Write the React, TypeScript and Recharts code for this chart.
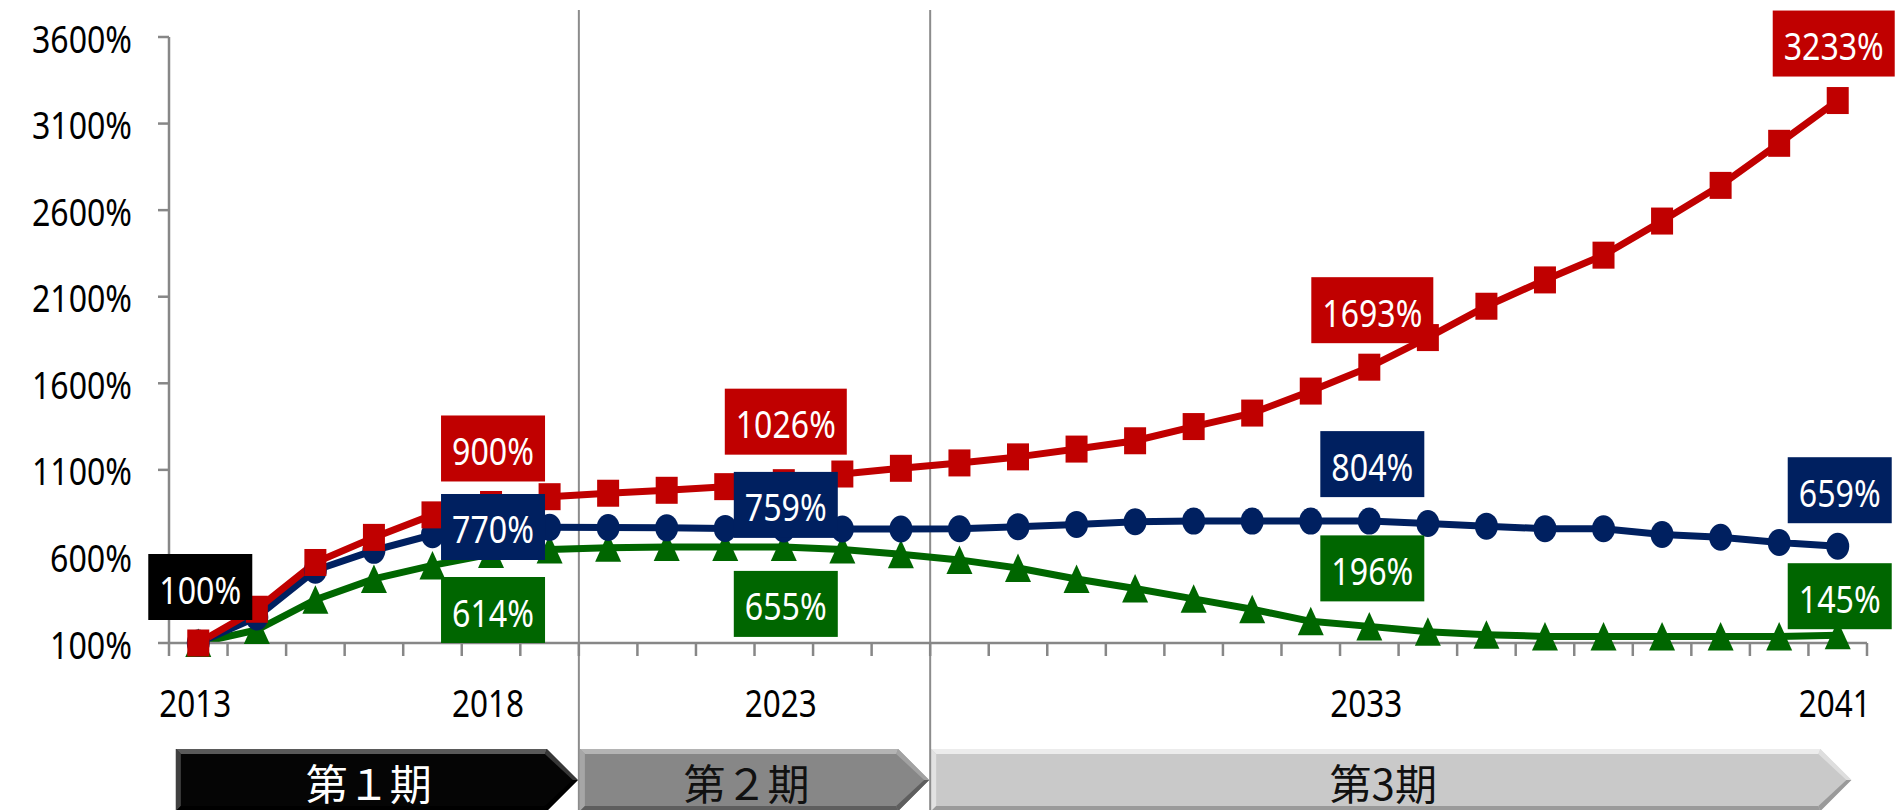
import React from 'react';
import { LineChart, Line, XAxis, YAxis, ReferenceLine, ReferenceArea, LabelList } from 'recharts';

// ---------- data ----------
const years = [2013, 2014, 2015, 2016, 2017, 2018, 2019, 2020, 2021, 2022, 2023, 2024, 2025, 2026, 2027, 2028, 2029, 2030, 2031, 2032, 2033, 2034, 2035, 2036, 2037, 2038, 2039, 2040, 2041];
const seriesRed = [100, 295, 565, 710, 840, 900, 945, 965, 982, 1003, 1026, 1076, 1109, 1140, 1175, 1220, 1268, 1350, 1428, 1555, 1693, 1864, 2045, 2197, 2340, 2537, 2743, 2986, 3233];
const seriesBlue = [100, 250, 520, 635, 725, 770, 768, 767, 765, 762, 759, 758, 758, 760, 772, 785, 800, 804, 804, 804, 804, 790, 775, 760, 760, 727, 711, 680, 659];
const seriesGreen = [100, 175, 350, 470, 548, 614, 640, 650, 655, 655, 655, 640, 612, 580, 533, 470, 415, 355, 295, 225, 196, 165, 148, 138, 137, 137, 137, 137, 145];

const yTicks = [100, 600, 1100, 1600, 2100, 2600, 3100, 3600];
const xLabelYears = [2013, 2018, 2023, 2033, 2041];

const redLabelYears = [2013, 2018, 2023, 2033, 2041];
const blueLabelYears = [2018, 2023, 2033, 2041];
const greenLabelYears = [2018, 2023, 2033, 2041];

const periodNames = ['第１期', '第２期', '第3期'];
const periodStarts = [2012.6, 2019.5, 2025.5];
const periodEnds = [2019.5, 2025.5, 2041.25];
const separatorYears = [2019.5, 2025.5];

const data = years.map((year, i) => ({ year, red: seriesRed[i], blue: seriesBlue[i], green: seriesGreen[i] }));
const boundaryTicks = [...years.map((y) => y - 0.5), years[years.length - 1] + 0.5];
const xTicks = [...boundaryTicks, ...xLabelYears].sort((a, b) => a - b);

// ---------- style ----------
const RED = '#C00000';
const BLUE = '#002060';
const GREEN = '#006600';
const AXIS = '#878787';
const NUM_FONT = "'Noto Sans', 'Open Sans', 'DejaVu Sans', sans-serif";
const CJK_FONT = "'Noto Sans CJK JP', 'Noto Sans CJK SC', sans-serif";

// narrow-font look: width per glyph
const textLen = (s: string) => {
  let w = 0;
  for (const ch of s) w += ch === '%' ? 28 : 18;
  return w;
};

const NumText = (props: any) => {
  const { children, ...rest } = props;
  const s = String(children);
  return (
    <text {...rest} fontSize={39} fontFamily={NUM_FONT} textLength={textLen(s)} lengthAdjust="spacingAndGlyphs">
      {s}
    </text>
  );
};

const labelYearsBySeries: Record<string, number[]> = { red: redLabelYears, blue: blueLabelYears, green: greenLabelYears };
const labelDy: Record<string, number[]> = { red: [-56, -56, -61, -57, -57], blue: [0, -24, -57, -56], green: [56, 57, -58, -39] };
const labelDx: Record<string, number[]> = { red: [2, 2, 2, 3, -4], blue: [2, 2, 3, 2], green: [2, 2, 3, 2] };

const makeLabel = (key: string, color: string) => (props: any) => {
  const { x, y, value, index } = props;
  if (x == null || y == null) return null;
  const yr = years[index];
  const li = labelYearsBySeries[key].indexOf(yr);
  if (li < 0) return null;
  const text = `${value}%`;
  const w = 18 * text.length + 32;
  const h = 66;
  const cx = x + labelDx[key][li];
  const cy = y + labelDy[key][li];
  const fill = key === 'red' && yr === 2013 ? '#000000' : color;
  return (
    <g key={`lb-${key}-${index}`}>
      <rect x={cx - w / 2} y={cy - h / 2} width={w} height={h} fill={fill} />
      <NumText x={cx} y={cy + 1} textAnchor="middle" dominantBaseline="central" fill="#ffffff">
        {text}
      </NumText>
    </g>
  );
};

const squareDot = (color: string) => (p: any) =>
  p.cx == null ? <g key={`sq${p.index}`} /> : <rect key={`sq${p.index}`} x={p.cx - 11} y={p.cy - 13.5} width={22} height={27} fill={color} />;
const circleDot = (color: string) => (p: any) =>
  p.cx == null ? <g key={`ci${p.index}`} /> : <ellipse key={`ci${p.index}`} cx={p.cx} cy={p.cy} rx={11.5} ry={13.5} fill={color} />;
const triDot = (color: string) => (p: any) =>
  p.cx == null ? (
    <g key={`tr${p.index}`} />
  ) : (
    <path key={`tr${p.index}`} d={`M${p.cx},${p.cy - 14.5} L${p.cx + 13},${p.cy + 14} L${p.cx - 13},${p.cy + 14} Z`} fill={color} />
  );

const YTick = (p: any) => {
  const { x, y, payload } = p;
  return (
    <g>
      <line x1={x - 11} x2={x} y1={y} y2={y} stroke={AXIS} strokeWidth={2.5} />
      <NumText x={x - 37} y={y} textAnchor="end" dominantBaseline="central" fill="#000">
        {`${payload.value}%`}
      </NumText>
    </g>
  );
};

const XTick = (p: any) => {
  const { x, y, payload } = p;
  const v = payload.value;
  if (Number.isInteger(v)) {
    return (
      <NumText x={x - 3} y={y + 58} textAnchor="middle" dominantBaseline="central" fill="#000">
        {String(v)}
      </NumText>
    );
  }
  return <line x1={x} x2={x} y1={y} y2={y + 13} stroke={AXIS} strokeWidth={2.5} />;
};

const periodStyles = [
  { fill: '#050505', light: '#5a5a5a', dark: '#000000', text: '#ffffff' },
  { fill: '#878787', light: '#b4b4b4', dark: '#5e5e5e', text: '#111111' },
  { fill: '#c9c9c9', light: '#ececec', dark: '#9a9a9a', text: '#111111' },
];

const arrowShape = (i: number) => (p: any) => {
  const { x, y, width, height } = p;
  const st = periodStyles[i];
  const top = y + height + 106;
  const h = 62;
  const bot = top + h;
  const mid = top + h / 2;
  const L = x + 1;
  const tip = x + width - 1;
  const B = tip - 31;
  const e = 5;
  return (
    <g>
      <polygon points={`${L},${top} ${B},${top} ${tip},${mid} ${B},${bot} ${L},${bot}`} fill={st.fill} />
      <polygon points={`${L},${top} ${B},${top} ${B - 2},${top + e} ${L + e},${top + e}`} fill={st.light} />
      <polygon points={`${L},${top} ${L + e},${top + e} ${L + e},${bot - e} ${L},${bot}`} fill={st.light} opacity={0.7} />
      <polygon points={`${B},${top} ${tip},${mid} ${tip - e},${mid} ${B - 2},${top + e}`} fill={st.light} opacity={0.6} />
      <polygon points={`${tip},${mid} ${B},${bot} ${B - 2},${bot - e} ${tip - e},${mid}`} fill={st.dark} />
      <polygon points={`${L},${bot} ${B},${bot} ${B - 2},${bot - e} ${L + e},${bot - e}`} fill={st.dark} />
      <text x={(L + tip) / 2 - 8} y={mid + 1} textAnchor="middle" dominantBaseline="central" fontSize={42} fontFamily={CJK_FONT} fill={st.text}>
        {periodNames[i]}
      </text>
    </g>
  );
};

const separatorShape = (p: any) => <line x1={p.x1} x2={p.x2} y1={10} y2={810} stroke="#8c8c8c" strokeWidth={2} />;

export default function App() {
  return (
    <div style={{ position: 'absolute', left: 0, top: 0, width: 1901, height: 810, background: '#fff' }}>
      <LineChart width={1901} height={810} data={data} margin={{ top: 37, right: 34, bottom: 107, left: 0 }}>
        <XAxis
          dataKey="year"
          type="number"
          domain={[2012.5, 2041.5]}
          ticks={xTicks}
          interval={0}
          tick={<XTick />}
          tickLine={false}
          tickSize={0}
          tickMargin={0}
          height={60}
          axisLine={{ stroke: AXIS, strokeWidth: 2.5 }}
        />
        <YAxis
          type="number"
          domain={[100, 3600]}
          ticks={yTicks}
          interval={0}
          tick={<YTick />}
          tickLine={false}
          tickSize={0}
          tickMargin={0}
          width={169}
          axisLine={{ stroke: AXIS, strokeWidth: 2.5 }}
        />
        {periodNames.map((n, i) => (
          <ReferenceArea key={n} x1={periodStarts[i]} x2={periodEnds[i]} shape={arrowShape(i)} ifOverflow="visible" />
        ))}
        {separatorYears.map((s) => (
          <ReferenceLine key={s} x={s} shape={separatorShape} ifOverflow="visible" />
        ))}
        <Line dataKey="green" stroke={GREEN} strokeWidth={7} dot={triDot(GREEN)} activeDot={false} isAnimationActive={false} />
        <Line dataKey="blue" stroke={BLUE} strokeWidth={7} dot={circleDot(BLUE)} activeDot={false} isAnimationActive={false} />
        <Line dataKey="red" stroke={RED} strokeWidth={7} dot={squareDot(RED)} activeDot={false} isAnimationActive={false} />
        <Line dataKey="red" stroke="none" dot={false} activeDot={false} isAnimationActive={false} legendType="none">
          <LabelList dataKey="red" content={makeLabel('red', RED)} />
        </Line>
        <Line dataKey="blue" stroke="none" dot={false} activeDot={false} isAnimationActive={false} legendType="none">
          <LabelList dataKey="blue" content={makeLabel('blue', BLUE)} />
        </Line>
        <Line dataKey="green" stroke="none" dot={false} activeDot={false} isAnimationActive={false} legendType="none">
          <LabelList dataKey="green" content={makeLabel('green', GREEN)} />
        </Line>
      </LineChart>
    </div>
  );
}
